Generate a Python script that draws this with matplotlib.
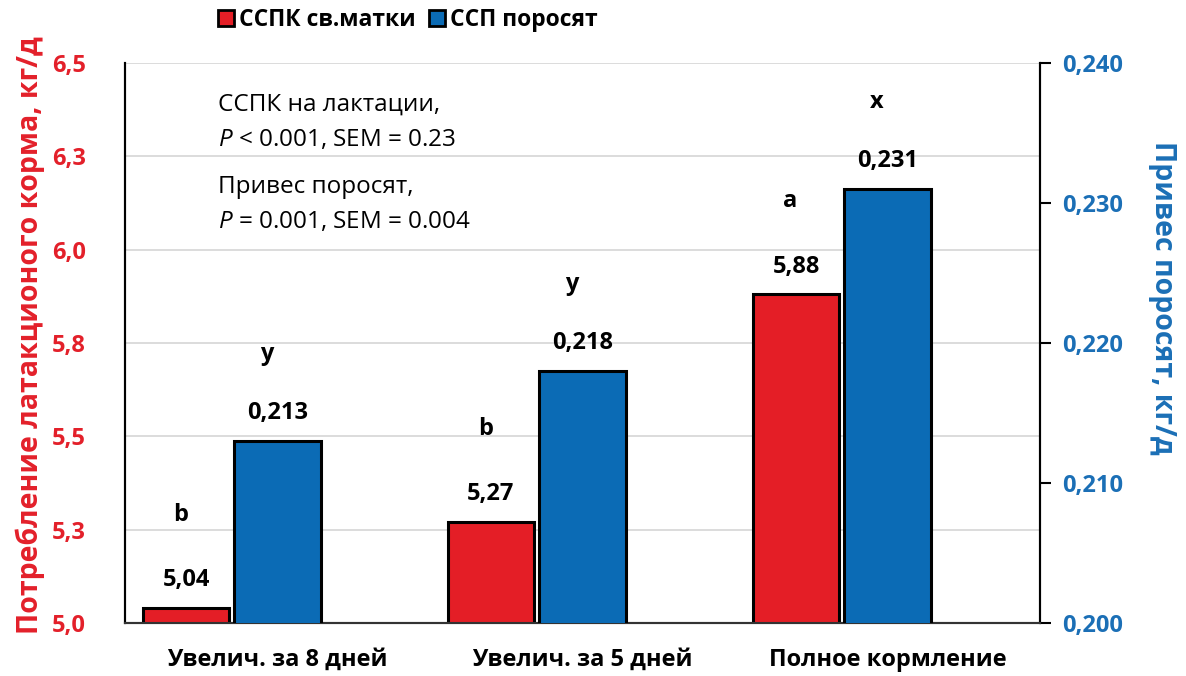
import numpy as np
import matplotlib as mpl
mpl.use("agg")
import matplotlib.pyplot as plt
from matplotlib.patches import Patch

plt.rcParams['font.family'] = ['Open Sans', 'DejaVu Sans']
plt.rcParams['mathtext.fontset'] = 'custom'
plt.rcParams['mathtext.it'] = 'Open Sans:italic'
plt.rcParams['mathtext.rm'] = 'Open Sans'

categories = ["Увелич. за 8 дней", "Увелич. за 5 дней", "Полное кормление"]
sow_feed = [5.04, 5.27, 5.88]          # left axis, kg/d
piglet_gain = [0.213, 0.218, 0.231]    # right axis, kg/d
sow_letters = ["b", "b", "a"]
piglet_letters = ["y", "y", "x"]

left_ticks = [5.0, 5.25, 5.5, 5.75, 6.0, 6.25, 6.5]
left_ticklabels = ["5,0", "5,3", "5,5", "5,8", "6,0", "6,3", "6,5"]
right_ticks = [0.200, 0.210, 0.220, 0.230, 0.240]
right_ticklabels = ["0,200", "0,210", "0,220", "0,230", "0,240"]

red = "#e41e26"
blue = "#0b6bb5"
red_txt = "#e3202a"
blue_txt = "#1b6fb6"

fig = plt.figure(figsize=(11.86, 6.76), dpi=100)
ax = fig.add_axes([125/1186, 1 - 623/676, 915/1186, 560/676])
ax2 = ax.twinx()

x = np.arange(len(categories))
w = 0.285
ax.bar(x - 0.30, sow_feed, w, color=red, edgecolor="black", linewidth=2.2, zorder=3)
ax2.bar(x, piglet_gain, w, color=blue, edgecolor="black", linewidth=2.2, zorder=3)

ax.set_xlim(-0.5, 2.5)
ax.set_ylim(5.0, 6.5)
ax2.set_ylim(0.2, 0.24)

ax.set_yticks(left_ticks)
ax.set_yticklabels(left_ticklabels, color=red_txt, fontweight="bold", fontsize=17)
ax.tick_params(axis="y", length=0, pad=28)
ax2.set_yticks(right_ticks)
ax2.set_yticklabels(right_ticklabels, color=blue_txt, fontweight="bold", fontsize=17)
ax2.tick_params(axis="y", direction="out", length=8, width=1.5, color="black", pad=8)

ax.set_xticks(x)
ax.set_xticklabels(categories, fontweight="bold", fontsize=17)
ax.tick_params(axis="x", length=0, pad=18)

ax.yaxis.grid(True, color="#d9d9d9", linewidth=1.3, zorder=0)
ax.set_axisbelow(True)
for a in (ax, ax2):
    a.spines["top"].set_visible(False)
    a.spines["left"].set_color("black")
    a.spines["left"].set_linewidth(1.5)
    a.spines["right"].set_color("black")
    a.spines["right"].set_linewidth(1.5)
    a.spines["bottom"].set_color("#333333")
    a.spines["bottom"].set_linewidth(1.5)

fig.text(30/1186, 1 - 335/676, "Потребление латакционого корма, кг/д", color=red_txt,
         fontweight="bold", fontsize=20.5, rotation=90, ha="center", va="center")
fig.text(1162/1186, 1 - 298/676, "Привес поросят, кг/д", color=blue_txt,
         fontweight="bold", fontsize=20.5, rotation=270, ha="center", va="center")

for xi, v, lt in zip(x, sow_feed, sow_letters):
    ax.annotate(f"{v:.2f}".replace(".", ","), (xi - 0.30, v), xytext=(0, 20),
                textcoords="offset points", ha="center", va="center",
                fontweight="bold", fontsize=17)
    ax.annotate(lt, (xi - 0.30, v), xytext=(-4, 67), textcoords="offset points",
                ha="center", va="center", fontweight="bold", fontsize=17)
for xi, v, lt in zip(x, piglet_gain, piglet_letters):
    ax2.annotate(f"{v:.3f}".replace(".", ","), (xi, v), xytext=(0, 20),
                 textcoords="offset points", ha="center", va="center",
                 fontweight="bold", fontsize=17)
    ax2.annotate(lt, (xi, v), xytext=(-8, 63), textcoords="offset points",
                 ha="center", va="center", fontweight="bold", fontsize=17)

stats = ["ССПК на лактации,", "$P$ < 0.001, SEM = 0.23",
         "Привес поросят,", "$P$ = 0.001, SEM = 0.004"]
stat_y = [105, 140, 187, 222]
for s, yy in zip(stats, stat_y):
    fig.text(218/1186, 1 - yy/676, s, fontsize=17.5, ha="left", va="center")

handles = [Patch(facecolor=red, edgecolor="black", linewidth=2),
           Patch(facecolor=blue, edgecolor="black", linewidth=2)]
leg = fig.legend(handles, ["ССПК св.матки", "ССП поросят"], loc="center",
                 bbox_to_anchor=(408/1186, 1 - 20/676), ncols=2, frameon=False,
                 prop={"weight": "bold", "size": 16.5}, handlelength=0.7,
                 handleheight=0.7, handletextpad=0.2, columnspacing=0.6)

fig.savefig("out.png", dpi=100)
